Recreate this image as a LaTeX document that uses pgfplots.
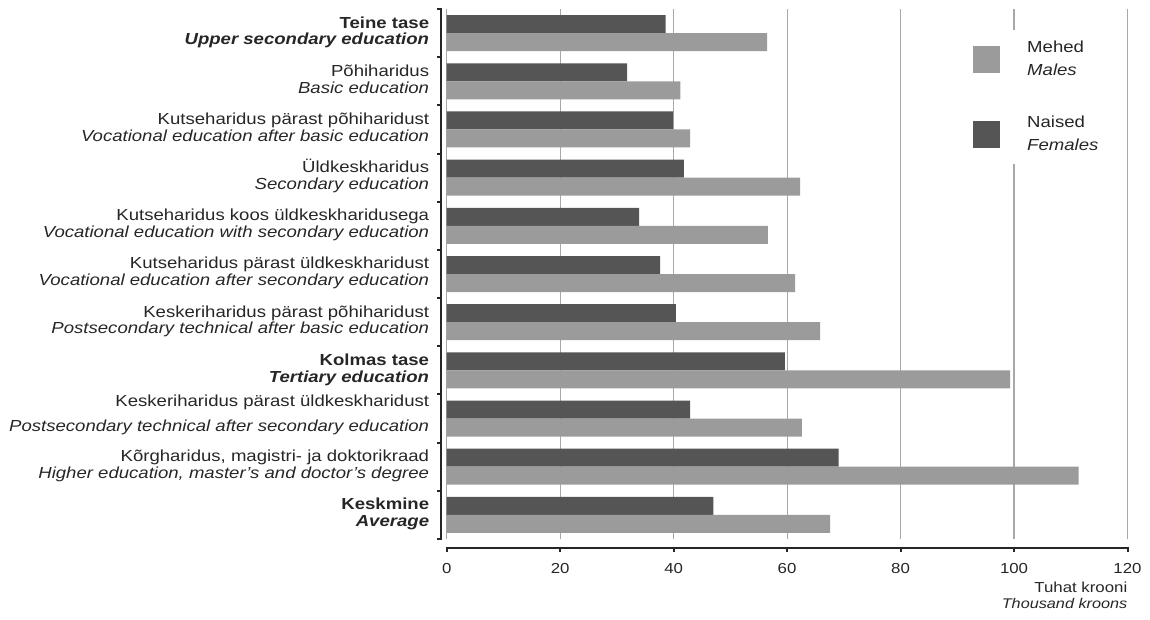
\documentclass[border=0pt]{standalone}
\usepackage{pgfplots}
\pgfplotsset{compat=1.18}
\usepackage{fontspec}
\setmainfont[FakeStretch=1.16]{Liberation Sans}
\definecolor{darkbar}{HTML}{555555}
\definecolor{lightbar}{HTML}{9B9B9B}
\definecolor{txt}{HTML}{262626}
\definecolor{gridc}{HTML}{A8A8A8}
\newcommand{\lab}[2]{\begin{tabular}{@{}r@{}}\smash{#1}\\\smash{#2}\end{tabular}}
\newcommand{\labB}[2]{\lab{\textbf{#1}}{\textbf{\textit{#2}}}}
\newcommand{\labN}[2]{\lab{#1}{\textit{#2}}}
\begin{document}
\begin{tikzpicture}
\path[use as bounding box] (-446.7pt,-80pt) rectangle (703.3pt,539pt);
\begin{axis}[
  at={(0pt,0pt)}, anchor=south west,
  scale only axis, width=680.8pt, height=530pt,
  xmin=0, xmax=120, ymin=-0.5, ymax=10.5,
  axis line style={draw=none},
  major tick length=0pt,
  xtick={0,20,...,120},
  /pgf/number format/assume math mode=true,
  xmajorgrids, grid style={gridc, line width=1.2pt},
  ytick={0,...,10},
  yticklabels={
    {\labB{Keskmine}{Average}},
    {\labN{Kõrgharidus, magistri- ja doktorikraad}{Higher education, master's and doctor's degree}},
    {\begin{tabular}{@{}r@{}}\smash{Keskeriharidus pärast üldkeskharidust}\\[8.2pt]\smash{\textit{Postsecondary technical after secondary education}}\rule[-10.8pt]{0pt}{0pt}\end{tabular}},
    {\labB{Kolmas tase}{Tertiary education}},
    {\labN{Keskeriharidus pärast põhiharidust}{Postsecondary technical after basic education}},
    {\labN{Kutseharidus pärast üldkeskharidust}{Vocational education after secondary education}},
    {\labN{Kutseharidus koos üldkeskharidusega}{Vocational education with secondary education}},
    {\labN{Üldkeskharidus}{Secondary education}},
    {\labN{Kutseharidus pärast põhiharidust}{Vocational education after basic education}},
    {\labN{Põhiharidus}{Basic education}},
    {\labB{Teine tase}{Upper secondary education}}
  },
  yticklabel style={anchor=east, inner sep=0pt, xshift=-17.4pt, font=\fontsize{16}{16.8}\selectfont, text=txt},
  xticklabel style={anchor=base, inner sep=0pt, yshift=-34.3pt, font=\fontsize{14.5}{16}\selectfont, text=txt},
  clip=false,
  legend style={at={(0.7584,0.9611)}, anchor=north west, draw=none, fill=white,
    inner xsep=10pt, inner ysep=7pt, row sep=29.6pt, column sep=27pt,
    nodes={inner sep=0pt, text depth=, font=\fontsize{16}{22.7}\selectfont, text=txt}},
  legend cell align=left,
  legend image code/.code={\fill[#1, draw=none] (0pt,-13.5pt) rectangle (27pt,13.5pt);},
]
\addplot[xbar, bar width=18pt, bar shift=9pt, fill=darkbar, draw=none, forget plot] coordinates {
  (47.0,0) (69.1,1) (42.9,2) (59.6,3) (40.4,4) (37.6,5) (33.9,6) (41.8,7) (39.9,8) (31.8,9) (38.6,10)
};
\addplot[xbar, bar width=18pt, bar shift=-9pt, fill=lightbar, draw=none, forget plot] coordinates {
  (67.6,0) (111.4,1) (62.6,2) (99.3,3) (65.8,4) (61.4,5) (56.6,6) (62.3,7) (42.9,8) (41.2,9) (56.5,10)
};
\addlegendimage{fill=lightbar, draw=none}
\addlegendentry{\begin{tabular}{@{}l@{}}Mehed\\\textit{Males}\end{tabular}}
\addlegendimage{fill=darkbar, draw=none}
\addlegendentry{\begin{tabular}{@{}l@{}}Naised\\\textit{Females}\end{tabular}}
% axis lines
\draw[txt, line width=2pt] ([xshift=-5.7pt]axis cs:0,-0.5) -- ([xshift=-5.7pt]axis cs:0,10.5);
\pgfplotsinvokeforeach{0,...,11}{
  \draw[txt, line width=2pt] ([xshift=-4.7pt]axis cs:0,#1-0.5) -- ([xshift=-10pt]axis cs:0,#1-0.5);
}
\draw[txt, line width=2pt] ([yshift=-8.5pt]axis cs:0,-0.5) -- ([yshift=-8.5pt]axis cs:120,-0.5);
\pgfplotsinvokeforeach{0,20,...,120}{
  \draw[txt, line width=2pt] ([yshift=-7.5pt]axis cs:#1,-0.5) -- ([yshift=-13pt]axis cs:#1,-0.5);
}
\node[anchor=base east, inner sep=0pt, text=txt, font=\fontsize{14.5}{16}\selectfont] at ([yshift=-53.7pt]axis cs:120,-0.5) {Tuhat krooni};
\node[anchor=base east, inner sep=0pt, text=txt, font=\fontsize{14}{16}\selectfont] at ([yshift=-69.3pt]axis cs:120,-0.5) {\textit{Thousand kroons}};
\end{axis}
\end{tikzpicture}
\end{document}
